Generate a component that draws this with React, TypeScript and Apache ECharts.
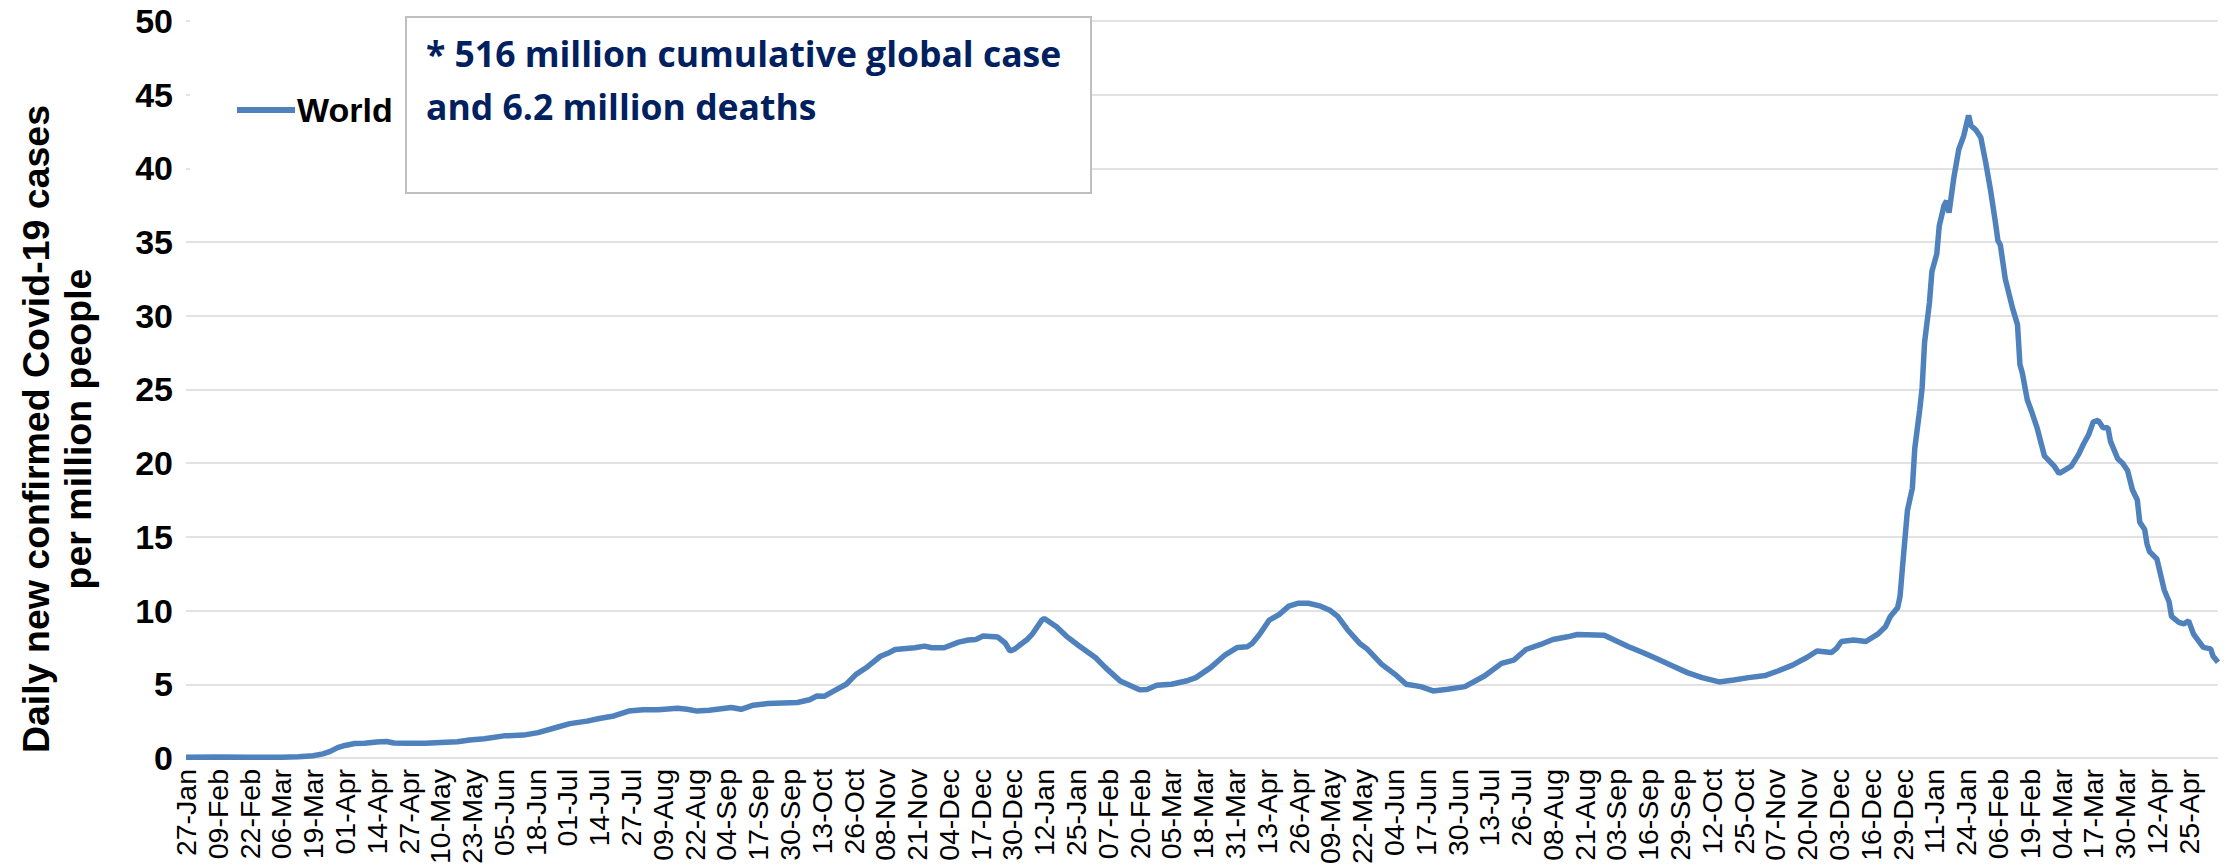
import React, { useEffect, useRef } from "react";
import * as echarts from "echarts";

// x-axis tick labels (every 13 days starting 27-Jan-2020)
const tickLabels = [
  "27-Jan", "09-Feb", "22-Feb", "06-Mar", "19-Mar", "01-Apr", "14-Apr", "27-Apr",
  "10-May", "23-May", "05-Jun", "18-Jun", "01-Jul", "14-Jul", "27-Jul", "09-Aug",
  "22-Aug", "04-Sep", "17-Sep", "30-Sep", "13-Oct", "26-Oct", "08-Nov", "21-Nov",
  "04-Dec", "17-Dec", "30-Dec", "12-Jan", "25-Jan", "07-Feb", "20-Feb", "05-Mar",
  "18-Mar", "31-Mar", "13-Apr", "26-Apr", "09-May", "22-May", "04-Jun", "17-Jun",
  "30-Jun", "13-Jul", "26-Jul", "08-Aug", "21-Aug", "03-Sep", "16-Sep", "29-Sep",
  "12-Oct", "25-Oct", "07-Nov", "20-Nov", "03-Dec", "16-Dec", "29-Dec", "11-Jan",
  "24-Jan", "06-Feb", "19-Feb", "04-Mar", "17-Mar", "30-Mar", "12-Apr", "25-Apr",
];

// days since 27-Jan-2020
const dayIndex = [
  0, 13, 26, 39, 46, 52, 56, 59, 62, 65, 69, 73, 78, 82, 85, 91, 98, 104, 111, 116,
  122, 130, 138, 144, 151, 157, 164, 169, 175, 181, 187, 193, 201, 205, 209, 214, 223, 227, 232, 238,
  250, 255, 258, 261, 265, 270, 274, 278, 284, 287, 290, 298, 302, 305, 310, 316, 320, 323, 326, 332,
  335, 337, 339, 344, 346, 350, 351, 356, 360, 365, 372, 376, 382, 390, 393, 397, 403, 409, 413, 419,
  425, 430, 434, 436, 439, 443, 447, 451, 455, 459, 464, 468, 471, 475, 480, 483, 489, 495, 499, 505,
  510, 516, 523, 531, 538, 543, 548, 554, 559, 565, 569, 580, 585, 590, 596, 602, 608, 614, 620, 627,
  633, 639, 646, 651, 657, 663, 667, 673, 675, 677, 682, 687, 692, 695, 697, 700, 701, 702, 704, 706,
  707, 709, 710, 711, 713, 714, 716, 717, 719, 720, 721, 723, 725, 727, 729, 730, 732, 734, 736, 738,
  740, 741, 742, 744, 747, 749, 750, 751, 753, 755, 757, 760, 764, 766, 768, 771, 774, 776, 778, 780,
  782, 784, 786, 787, 790, 792, 794, 796, 798, 799, 801, 802, 803, 806, 809, 811, 812, 815, 817, 819,
  821, 825, 828, 829, 831,
];

// daily new confirmed cases per million people (7-day average), world
const casesPerMillion = [
  0.05, 0.06, 0.05, 0.05, 0.08, 0.15, 0.28, 0.45, 0.7, 0.85, 0.98, 1.0, 1.08, 1.12, 1.02, 1.0, 1.0, 1.05, 1.1, 1.22,
  1.3, 1.5, 1.55, 1.72, 2.05, 2.33, 2.5, 2.68, 2.85, 3.18, 3.27, 3.27, 3.38, 3.3, 3.18, 3.24, 3.42, 3.3, 3.58, 3.7,
  3.76, 3.95, 4.2, 4.18, 4.55, 5.0, 5.67, 6.1, 6.9, 7.1, 7.36, 7.48, 7.59, 7.48, 7.48, 7.86, 8.0, 8.04, 8.27, 8.2,
  7.8, 7.25, 7.4, 8.04, 8.38, 9.35, 9.46, 8.9, 8.27, 7.63, 6.8, 6.13, 5.23, 4.62, 4.65, 4.93, 5.0, 5.22, 5.45, 6.13,
  7.0, 7.5, 7.55, 7.77, 8.38, 9.35, 9.73, 10.3, 10.5, 10.5, 10.3, 10.0, 9.6, 8.7, 7.77, 7.4, 6.35, 5.6, 5.0, 4.84,
  4.55, 4.66, 4.84, 5.56, 6.42, 6.64, 7.36, 7.7, 8.04, 8.22, 8.38, 8.33, 7.93, 7.55, 7.14, 6.69, 6.24, 5.79, 5.45, 5.16,
  5.29, 5.45, 5.6, 5.9, 6.3, 6.83, 7.26, 7.16, 7.43, 7.9, 8.0, 7.9, 8.42, 8.9, 9.6, 10.2, 11.0, 13.0, 16.8, 18.3,
  21.0, 23.6, 25.1, 28.2, 30.9, 33.0, 34.2, 36.1, 37.5, 37.8, 37.0, 39.4, 41.3, 42.2, 43.6, 42.9, 42.6, 42.1, 40.4, 38.5,
  36.3, 35.1, 34.8, 32.5, 30.5, 29.4, 26.7, 26.1, 24.3, 23.4, 22.4, 20.5, 19.8, 19.3, 19.5, 19.8, 20.6, 21.3, 21.9, 22.8,
  22.9, 22.4, 22.4, 21.5, 20.3, 20.0, 19.5, 18.2, 17.5, 16.0, 15.5, 14.5, 14.0, 13.5, 11.4, 10.6, 9.6, 9.2, 9.1, 9.3,
  8.4, 7.5, 7.4, 6.9, 6.5,
];

const seriesName = "World";
const yAxisTitle = "Daily new confirmed Covid-19 cases\nper million people";
const noteLines = ["* 516 million cumulative global case", "and 6.2 million deaths"];

const LINE_COLOR = "#4F81BD";
const TICK_STEP = 13;

export default function App() {
  const ref = useRef<HTMLDivElement>(null);

  useEffect(() => {
    if (!ref.current) return;
    const chart = echarts.init(ref.current, undefined, { renderer: "svg" });
    const data = dayIndex.map((d, i) => [d, casesPerMillion[i]]);
    const lastDay = dayIndex[dayIndex.length - 1];

    chart.setOption({
      animation: false,
      backgroundColor: "#ffffff",
      grid: { left: 186, right: 9, top: 21, bottom: 104, containLabel: false },
      xAxis: {
        type: "value",
        min: 0,
        max: lastDay,
        interval: TICK_STEP,
        axisLine: { show: false },
        axisTick: { show: false },
        splitLine: { show: false },
        axisLabel: {
          rotate: 90,
          margin: 11,
          fontSize: 28.5,
          color: "#000",
          fontFamily: "Liberation Sans, Arial, sans-serif",
          showMaxLabel: false,
          formatter: (v: number) => {
            const i = Math.round(v / TICK_STEP);
            return Math.abs(v - i * TICK_STEP) < 1e-6 && i < tickLabels.length ? tickLabels[i] : "";
          },
        },
      },
      yAxis: {
        type: "value",
        min: 0,
        max: 50,
        interval: 5,
        axisLine: { show: false },
        axisTick: { show: false },
        splitLine: { lineStyle: { color: "#d9d9d9", width: 1.5 } },
        axisLabel: {
          margin: 13,
          fontSize: 34,
          fontWeight: "bold",
          color: "#000",
          fontFamily: "Liberation Sans, Arial, sans-serif",
        },
      },
      legend: {
        show: true,
        left: 232,
        top: 88,
        icon: "rect",
        itemWidth: 58,
        itemHeight: 6,
        itemGap: 0,
        textStyle: {
          fontSize: 34,
          fontWeight: "bold",
          color: "#000",
          fontFamily: "Liberation Sans, Arial, sans-serif",
          padding: [0, 0, 0, -3],
        },
        data: [seriesName],
        z: 10,
      },
      series: [
        {
          name: seriesName,
          type: "line",
          data,
          showSymbol: false,
          symbol: "none",
          lineStyle: { color: LINE_COLOR, width: 5.5 },
          itemStyle: { color: LINE_COLOR },
          z: 3,
        },
      ],
      graphic: [
        {
          type: "rect",
          z: 1,
          shape: { x: 190, y: 12, width: 216, height: 180 },
          style: { fill: "#ffffff", stroke: "none" },
        },
        {
          type: "rect",
          z: 5,
          shape: { x: 406, y: 17, width: 685, height: 176 },
          style: { fill: "#ffffff", stroke: "#bfbfbf", lineWidth: 2 },
        },
        {
          type: "text",
          z: 6,
          x: 426,
          y: 53,
          style: {
            text: noteLines[0],
            fill: "#002060",
            font: "bold 35.5px 'Open Sans', sans-serif",
            textVerticalAlign: "middle",
            verticalAlign: "middle",
          },
        },
        {
          type: "text",
          z: 6,
          x: 426,
          y: 106,
          style: {
            text: noteLines[1],
            fill: "#002060",
            font: "bold 35.5px 'Open Sans', sans-serif",
            textVerticalAlign: "middle",
            verticalAlign: "middle",
          },
        },
        {
          type: "text",
          z: 6,
          x: 57,
          y: 429,
          rotation: Math.PI / 2,
          style: {
            text: yAxisTitle,
            fill: "#000",
            font: "bold 37.5px 'Liberation Sans', Arial, sans-serif",
            align: "center",
            verticalAlign: "middle",
            textAlign: "center",
            textVerticalAlign: "middle",
            lineHeight: 42,
          },
        },
      ],
    });

    return () => chart.dispose();
  }, []);

  return (
    <div
      ref={ref}
      style={{ position: "fixed", left: 0, top: 0, width: 2227, height: 867 }}
    />
  );
}
